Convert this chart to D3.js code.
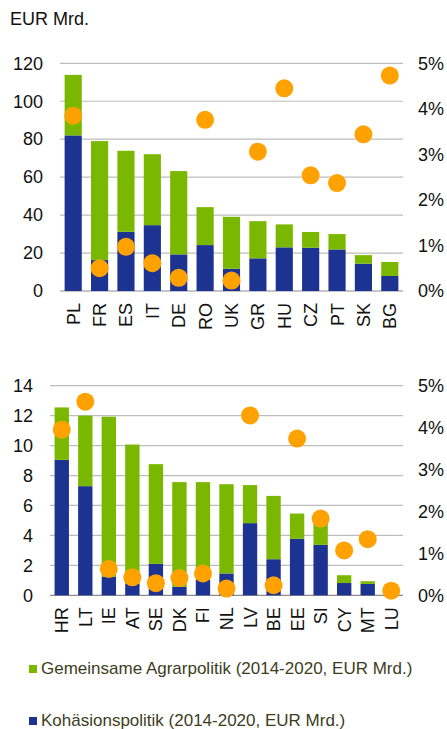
<!DOCTYPE html>
<html>
<head>
<meta charset="utf-8">
<script src="https://cdn.jsdelivr.net/npm/d3@7"></script>
<style>
    body { margin: 0; background: #fff; }
    svg text { font-family: "Liberation Sans", Arial, sans-serif; }
</style>
</head>
<body>
<div id="chart"></div>
<script>
// Top panel data
const topCountries = ['PL', 'FR', 'ES', 'IT', 'DE', 'RO', 'UK', 'GR', 'HU', 'CZ', 'PT', 'SK', 'BG'];
const topCohesion = [82, 16.3, 31.2, 34.7, 19.3, 24.2, 11.7, 17.2, 23, 22.8, 21.9, 14.4, 7.9];
const topAgri = [31.9, 62.7, 42.7, 37.4, 43.9, 20, 27.4, 19.6, 12.1, 8.3, 8.1, 4.5, 7.4];
const topShare = [3.85, 0.5, 0.97, 0.61, 0.29, 3.76, 0.23, 3.06, 4.45, 2.54, 2.37, 3.44, 4.73];
const topTicks = [0, 20, 40, 60, 80, 100, 120];

// Bottom panel data
const botCountries = ['HR', 'LT', 'IE', 'AT', 'SE', 'DK', 'FI', 'NL', 'LV', 'BE', 'EE', 'SI', 'CY', 'MT', 'LU'];
const botCohesion = [9.05, 7.29, 1.25, 0.8, 2.1, 0.58, 1.02, 1.46, 4.82, 2.41, 3.77, 3.37, 0.82, 0.76, 0.04];
const botAgri = [3.5, 4.71, 10.68, 9.27, 6.66, 6.98, 6.54, 5.96, 2.54, 4.23, 1.69, 1.73, 0.52, 0.18, 0.06];
const botShare = [3.95, 4.62, 0.63, 0.43, 0.29, 0.41, 0.52, 0.16, 4.29, 0.24, 3.74, 1.83, 1.07, 1.34, 0.11];
const botTicks = [0, 2, 4, 6, 8, 10, 12, 14];

const shareTicks = [0, 1, 2, 3, 4, 5];

const green = '#7ab800';
const blue = '#1c3391';
const orange = '#ffa200';

const svg = d3.select('#chart')
    .append('svg')
    .attr('width', 447)
    .attr('height', 729);

svg.append('text')
    .attr('x', 10)
    .attr('y', 25)
    .attr('font-size', 18)
    .attr('fill', '#111')
    .text('EUR Mrd.');

function drawPanel(cfg) {
    const x = d3.scaleBand()
        .domain(cfg.countries)
        .range([cfg.left, 403])
        .paddingInner(cfg.pad)
        .paddingOuter(cfg.pad / 2);

    const y = d3.scaleLinear()
        .domain([0, cfg.max])
        .range([cfg.bottom, cfg.top]);

    const y2 = d3.scaleLinear()
        .domain([0, 5])
        .range([cfg.bottom, cfg.top]);

    const g = svg.append('g');

    // gridlines
    g.selectAll('.grid')
        .data(cfg.ticks)
        .enter()
        .append('line')
        .attr('x1', cfg.left)
        .attr('x2', 403)
        .attr('y1', d => y(d))
        .attr('y2', d => y(d))
        .attr('stroke', d => d === 0 ? '#8c8c8c' : '#bdbdbd')
        .attr('stroke-width', 1.2);

    // left axis labels
    g.append('g')
        .attr('transform', `translate(${cfg.left - 17},0)`)
        .call(d3.axisLeft(y).tickValues(cfg.ticks).tickSize(0).tickPadding(0))
        .call(a => a.select('.domain').remove())
        .selectAll('text')
        .attr('font-size', 18)
        .attr('fill', '#111');

    // right axis labels
    g.append('g')
        .attr('transform', 'translate(418,0)')
        .call(d3.axisRight(y2).tickValues(shareTicks).tickSize(0).tickPadding(0).tickFormat(d => d + '%'))
        .call(a => a.select('.domain').remove())
        .selectAll('text')
        .attr('font-size', 18)
        .attr('fill', '#111');

    const rows = cfg.countries.map((c, i) => ({
        c: c,
        coh: cfg.cohesion[i],
        agri: cfg.agri[i],
        share: cfg.share[i]
    }));

    // cohesion (blue) at bottom
    g.selectAll('.coh')
        .data(rows)
        .enter()
        .append('rect')
        .attr('x', d => x(d.c))
        .attr('width', x.bandwidth())
        .attr('y', d => y(d.coh))
        .attr('height', d => y(0) - y(d.coh))
        .attr('fill', blue);

    // agriculture (green) stacked on top
    g.selectAll('.agri')
        .data(rows)
        .enter()
        .append('rect')
        .attr('x', d => x(d.c))
        .attr('width', x.bandwidth())
        .attr('y', d => y(d.coh + d.agri))
        .attr('height', d => y(d.coh) - y(d.coh + d.agri))
        .attr('fill', green);

    // share dots
    g.selectAll('.dot')
        .data(rows)
        .enter()
        .append('circle')
        .attr('cx', d => x(d.c) + x.bandwidth() / 2)
        .attr('cy', d => y2(d.share))
        .attr('r', 9)
        .attr('fill', orange);

    // rotated category labels
    g.selectAll('.cat')
        .data(rows)
        .enter()
        .append('text')
        .attr('transform', d => `translate(${x(d.c) + x.bandwidth() / 2},${cfg.bottom + 12}) rotate(-90)`)
        .attr('text-anchor', 'end')
        .attr('dy', '0.36em')
        .attr('font-size', 18)
        .attr('fill', '#111')
        .text(d => d.c);
}

drawPanel({
    countries: topCountries, cohesion: topCohesion, agri: topAgri, share: topShare,
    ticks: topTicks, max: 120, left: 60, top: 63.3, bottom: 291, pad: 0.35
});

drawPanel({
    countries: botCountries, cohesion: botCohesion, agri: botAgri, share: botShare,
    ticks: botTicks, max: 14, left: 50, top: 385.7, bottom: 595.3, pad: 0.39
});

// Legend
const legend = [
    { label: 'Gemeinsame Agrarpolitik (2014-2020, EUR Mrd.)', color: green, y: 673 },
    { label: 'Kohäsionspolitik (2014-2020, EUR Mrd.)', color: blue, y: 725 }
];

svg.selectAll('.leg-box')
    .data(legend)
    .enter()
    .append('rect')
    .attr('x', 29)
    .attr('y', d => d.y - 8)
    .attr('width', 8)
    .attr('height', 8)
    .attr('fill', d => d.color);

svg.selectAll('.leg-text')
    .data(legend)
    .enter()
    .append('text')
    .attr('x', 41)
    .attr('y', d => d.y + 1)
    .attr('font-size', 17)
    .attr('fill', '#3d3d1c')
    .text(d => d.label);
</script>
</body>
</html>
